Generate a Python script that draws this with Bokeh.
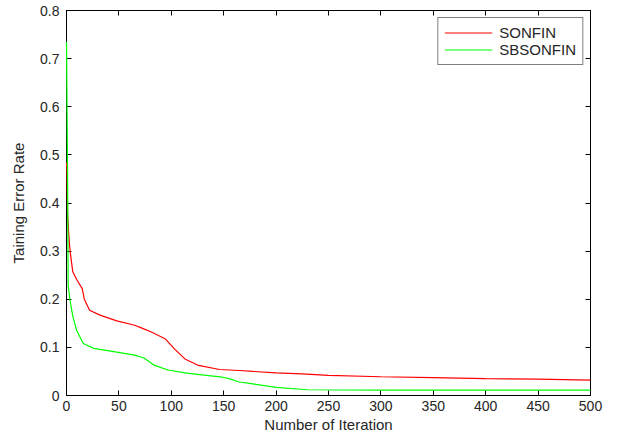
from bokeh.plotting import figure
from bokeh.models import (LinearAxis, FixedTicker, CustomJSTickFormatter, Legend, LegendItem, Range1d)
from bokeh.embed import file_html
from bokeh.resources import INLINE

# Data
red_x = [0, 0.5, 1, 2, 3, 4, 6, 10, 15, 17, 22, 32, 48, 65, 72, 81, 94, 103, 113, 126,
         146, 165, 178, 200, 225, 250, 300, 350, 400, 450, 500]
red_y = [0.485, 0.46, 0.38, 0.34, 0.31, 0.29, 0.257, 0.24, 0.222, 0.20, 0.177, 0.167, 0.155,
         0.146, 0.14, 0.132, 0.118, 0.097, 0.076, 0.0625, 0.054, 0.052, 0.050, 0.047, 0.045,
         0.042, 0.039, 0.037, 0.035, 0.034, 0.032]
green_x = [0, 0.5, 1, 1.6, 3.2, 6, 9.7, 16, 26, 48, 65, 74, 84, 97, 113, 129, 149, 155, 165,
           178, 200, 230, 300, 400, 500]
green_y = [0.735, 0.60, 0.46, 0.229, 0.20, 0.165, 0.135, 0.108, 0.098, 0.09, 0.084, 0.078,
           0.0625, 0.053, 0.047, 0.043, 0.038, 0.035, 0.028, 0.024, 0.017, 0.012, 0.011,
           0.011, 0.011]
x_ticks = [0, 50, 100, 150, 200, 250, 300, 350, 400, 450, 500]
y_ticks = [0, 0.1, 0.2, 0.3, 0.4, 0.5, 0.6, 0.7, 0.8]
series_names = ["SONFIN", "SBSONFIN"]

FONT = "Liberation Sans"
TXT = "#262626"

p = figure(width=618, height=439, output_backend="svg", toolbar_location=None,
           x_range=Range1d(0, 500), y_range=Range1d(0, 0.8),
           min_border_left=66, min_border_right=28, min_border_top=10, min_border_bottom=44)
p.xgrid.visible = False
p.ygrid.visible = False
p.outline_line_color = "black"
p.background_fill_color = "white"
p.border_fill_color = "white"

r1 = p.line(red_x, red_y, line_color="#ff0000", line_width=1.2, level="overlay")
r2 = p.line(green_x, green_y, line_color="#00ff00", line_width=1.2, level="overlay")

def style_axis(ax, ticks):
    ax.ticker = FixedTicker(ticks=ticks)
    ax.major_tick_in = 5
    ax.major_tick_out = 0
    ax.minor_tick_in = 0
    ax.minor_tick_out = 0
    ax.axis_line_color = "black"
    ax.major_tick_line_color = "black"
    ax.major_label_text_font = FONT
    ax.major_label_text_font_size = "14px"
    ax.major_label_text_color = TXT
    ax.axis_label_text_font = FONT
    ax.axis_label_text_font_size = "15px"
    ax.axis_label_text_font_style = "normal"
    ax.axis_label_text_color = TXT

xa = p.xaxis[0]
ya = p.yaxis[0]
style_axis(xa, x_ticks)
style_axis(ya, y_ticks)
xa.axis_label = "Number of Iteration"
ya.axis_label = "Taining Error Rate"
xa.axis_label_standoff = 2
ya.axis_label_standoff = 10
xa.major_label_standoff = 5
ya.major_label_standoff = 7
ya.major_label_overrides = {0: "0"}

top = LinearAxis(formatter=CustomJSTickFormatter(code="return ''"))
right = LinearAxis(formatter=CustomJSTickFormatter(code="return ''"))
style_axis(top, x_ticks)
style_axis(right, y_ticks)
top.major_label_standoff = 0
right.major_label_standoff = 0
p.add_layout(top, "above")
p.add_layout(right, "right")

legend = Legend(items=[LegendItem(label=series_names[0], renderers=[r1]),
                       LegendItem(label=series_names[1], renderers=[r2])],
                location="top_right")
legend.margin = 7
legend.padding = 6
legend.spacing = 0
legend.label_height = 15
legend.glyph_height = 15
legend.glyph_width = 48
legend.label_standoff = 7
legend.label_text_font = FONT
legend.label_text_font_size = "15px"
legend.label_text_color = TXT
legend.border_line_color = "black"
legend.border_line_width = 1
legend.background_fill_alpha = 1
p.add_layout(legend, "center")

open("out.html", "w").write(file_html(p, INLINE))
